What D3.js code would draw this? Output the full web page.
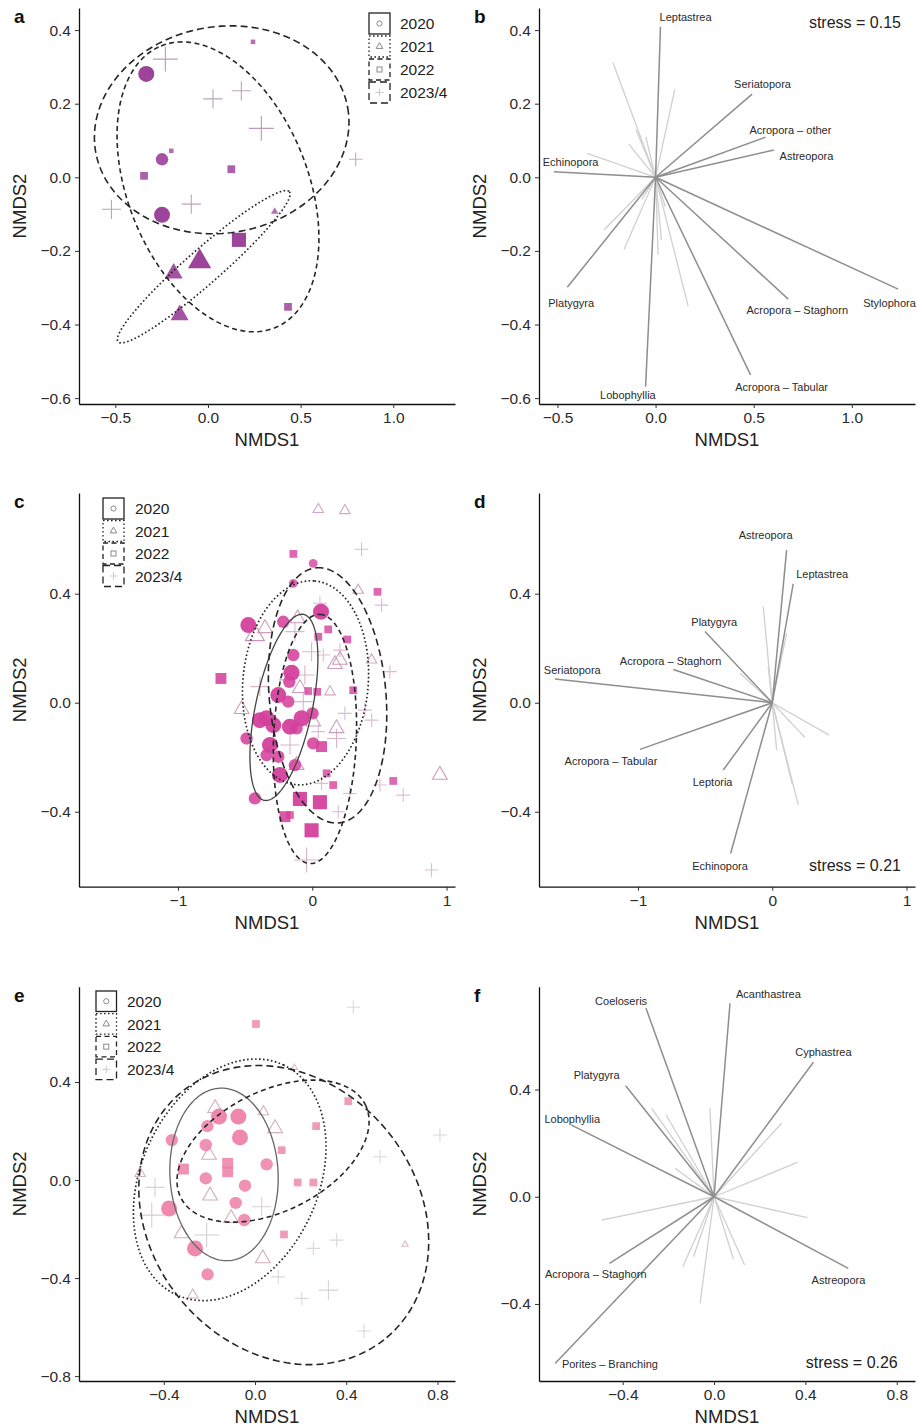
<!DOCTYPE html>
<html><head><meta charset="utf-8">
<script src="https://cdn.jsdelivr.net/npm/d3@7/dist/d3.min.js"></script>
<style>
body{margin:0;background:#fff}
svg{display:block}
text{font-family:"Liberation Sans",Arial,Helvetica,sans-serif}
</style>
</head><body>
<svg id="chart" width="918" height="1427"></svg>
<script>
// ---------------- DATA ----------------
const years = ["2020","2021","2022","2023/4"];
// scatter points: [NMDS1, NMDS2, cover class 1-4]
const a2020 = [[-0.333,0.281,4],[-0.248,0.049,3],[-0.248,-0.102,4]];
const a2021 = [[-0.045,-0.229,4],[-0.185,-0.261,3],[-0.153,-0.374,3],[0.36,-0.093,1]];
const a2022 = [[-0.198,0.072,1],[-0.345,0.004,2],[0.126,0.022,2],[0.167,-0.170,4],[0.432,-0.352,2],[0.243,0.368,1]];
const a2023 = [[-0.23,0.321,4],[0.027,0.213,3],[0.18,0.235,3],[0.288,0.133,4],[0.797,0.049,2],[-0.09,-0.073,3],[-0.521,-0.087,3]];
// ellipses: [cx, cy, axisA_x, axisA_y, axisB_x, axisB_y]
const aEll2021 = [-0.023,-0.243,0.462,0.204,0.062,-0.035];
const aEll2022 = [0.054,-0.026,-0.307,0.383,0.450,0.092];
const aEll2023 = [0.074,0.129,0.680,0.060,0.097,-0.276];

const c2020 = [[-0.476,0.285,4],[-0.216,0.297,3],[-0.141,0.438,2],[0.007,0.511,2],[0.065,0.334,4],[-0.141,0.175,3],[-0.154,0.110,4],[-0.171,0.077,3],[-0.253,0.028,4],[-0.179,0.004,3],[-0.340,-0.057,4],[-0.290,-0.082,4],[-0.390,-0.064,4],[-0.166,-0.088,4],[-0.079,-0.057,4],[-0.117,-0.094,3],[-0.489,-0.131,3],[-0.315,-0.155,4],[-0.340,-0.192,3],[-0.241,-0.265,4],[-0.427,-0.351,3],[-0.129,-0.229,3],[0.007,-0.149,3],[0.002,-0.039,3],[-0.253,-0.198,3]];
const c2021 = [[0.045,0.709,2],[0.243,0.705,2],[-0.427,0.248,4],[-0.352,0.273,3],[-0.109,0.309,3],[0.169,0.141,3],[0.206,0.157,3],[-0.092,0.053,3],[0.132,0.040,2],[-0.526,-0.024,3],[0.007,-0.070,3],[0.181,-0.094,3],[0.950,-0.265,3],[-0.117,-0.229,3],[-0.203,0.095,2],[0.342,0.413,2],[0.442,0.157,2]];
const c2022 = [[-0.680,0.089,3],[-0.141,0.546,2],[0.119,0.269,2],[0.045,0.242,2],[-0.030,0.043,2],[0.037,0.040,2],[0.305,0.046,2],[0.261,0.232,2],[0.486,0.407,2],[0.069,-0.161,3],[0.107,-0.259,2],[0.156,-0.302,2],[0.603,-0.287,2],[0.057,-0.365,4],[-0.092,-0.353,4],[-0.005,-0.468,4],[-0.203,-0.418,3],[-0.166,-0.412,2]];
const c2023 = [[0.367,0.563,2],[0.516,0.358,2],[0.057,0.365,2],[-0.129,0.261,3],[-0.005,0.187,3],[0.082,0.175,2],[0.206,0.193,2],[-0.055,0.102,3],[-0.067,0.004,3],[0.243,-0.039,2],[0.392,-0.027,2],[0.442,-0.064,2],[0.181,-0.131,3],[0.045,-0.106,2],[-0.390,0.059,3],[0.504,-0.302,2],[0.677,-0.339,2],[0.280,-0.333,2],[0.194,-0.400,2],[-0.042,-0.577,4],[0.888,-0.614,2],[0.578,0.114,2],[0.069,-0.296,2],[-0.166,-0.155,3]];
const cEll2020 = [-0.211,-0.017,0.147,0.341,0.206,-0.0217];
const cEll2021 = [-0.050,0.073,0.0665,0.374,0.465,-0.020];
const cEll2022 = [0.020,-0.133,0.037,0.457,0.308,-0.006];
const cEll2023 = [0.114,0.027,-0.083,0.468,0.433,0.0187];

const e2020 = [[-0.158,0.259,4],[-0.073,0.259,4],[-0.209,0.220,3],[-0.066,0.174,4],[-0.365,0.163,3],[-0.216,0.143,3],[0.051,0.064,3],[-0.216,0.007,3],[-0.044,-0.023,3],[-0.377,-0.116,4],[-0.085,-0.093,3],[-0.047,-0.163,3],[-0.263,-0.279,4],[-0.208,-0.385,3]];
const e2021 = [[-0.175,0.293,3],[0.037,0.279,2],[0.088,0.211,3],[-0.202,0.102,3],[-0.197,-0.064,3],[-0.504,0.027,2],[-0.105,-0.156,3],[-0.322,-0.218,3],[0.034,-0.320,3],[-0.273,-0.469,2],[0.658,-0.263,1],[0.173,0.459,1]];
const e2022 = [[-0.314,0.045,3],[-0.120,0.068,3],[-0.120,0.034,3],[0.004,0.637,2],[0.409,0.322,2],[0.268,0.220,2],[0.117,0.122,2],[0.187,-0.010,2],[0.256,-0.010,2],[0.127,-0.222,2]];
const e2023 = [[0.431,0.705,2],[-0.439,-0.030,3],[-0.453,-0.143,4],[-0.212,-0.224,4],[0.029,-0.109,3],[0.548,0.095,2],[0.811,0.184,2],[0.256,-0.279,2],[0.358,-0.245,2],[0.102,-0.395,2],[0.322,-0.449,3],[0.205,-0.483,2],[0.478,-0.616,2]];
const eEll2020 = [-0.136,0.023,-0.0175,0.352,0.237,0.0095];
const eEll2021 = [-0.111,0.001,0.235,0.469,0.351,-0.152];
const eEll2022 = [0.079,0.118,0.404,0.191,0.119,-0.218];
const eEll2023 = [0.126,-0.143,0.451,-0.500,0.448,0.350];

// species vectors
const bSpecies = ["Leptastrea","Seriatopora","Acropora – other","Astreopora","Echinopora","Platygyra","Lobophyllia","Acropora – Tabular","Acropora – Staghorn","Stylophora"];
const bEnd = [[0.025,0.409],[0.492,0.226],[0.56,0.109],[0.603,0.074],[-0.518,0.015],[-0.45,-0.299],[-0.051,-0.569],[0.484,-0.537],[0.676,-0.331],[1.236,-0.304]];
const bLabel = [[0.153,0.436],[0.545,0.254],[0.687,0.128],[0.769,0.058],[-0.433,0.041],[-0.430,-0.341],[-0.141,-0.592],[0.642,-0.569],[0.722,-0.362],[1.192,-0.341]];
const bOther = [[-0.217,0.311],[0.098,0.239],[-0.348,0.065],[-0.136,0.09],[-0.1,0.13],[-0.05,0.11],[-0.263,-0.143],[-0.161,-0.196],[0.013,-0.211],[0.03,-0.17],[0.166,-0.35],[-0.07,-0.06],[0.05,-0.08]];
const bStress = "stress = 0.15";

const dSpecies = ["Astreopora","Leptastrea","Platygyra","Acropora – Staghorn","Seriatopora","Acropora – Tabular","Leptoria","Echinopora"];
const dEnd = [[0.107,0.560],[0.156,0.436],[-0.501,0.261],[-0.737,0.122],[-1.618,0.087],[-0.985,-0.171],[-0.365,-0.247],[-0.31,-0.553]];
const dLabel = [[-0.049,0.615],[0.372,0.471],[-0.432,0.297],[-0.757,0.154],[-1.489,0.12],[-1.201,-0.214],[-0.444,-0.29],[-0.389,-0.599]];
const dOther = [[-0.067,0.352],[0.107,0.255],[0.424,-0.119],[0.243,-0.127],[0.194,-0.375],[0.033,-0.174],[-0.24,0.108],[-0.03,0.132],[0.15,-0.3]];
const dStress = "stress = 0.21";

const fSpecies = ["Coeloseris","Acanthastrea","Cyphastrea","Platygyra","Lobophyllia","Acropora – Staghorn","Porites – Branching","Astreopora"];
const fEnd = [[-0.298,0.703],[0.070,0.722],[0.435,0.502],[-0.387,0.414],[-0.626,0.268],[-0.458,-0.249],[-0.696,-0.622],[0.588,-0.267]];
const fLabel = [[-0.407,0.730],[0.238,0.755],[0.479,0.541],[-0.514,0.452],[-0.621,0.289],[-0.518,-0.29],[-0.456,-0.625],[0.545,-0.311]];
const fOther = [[-0.018,0.33],[-0.273,0.33],[-0.21,0.305],[0.296,0.274],[0.365,0.128],[0.409,-0.078],[-0.492,-0.087],[-0.171,0.106],[-0.137,-0.261],[-0.09,-0.224],[-0.061,-0.398],[0.085,-0.233],[0.134,-0.255]];
const fStress = "stress = 0.26";

// tick values
const abTicksX = [-0.5,0,0.5,1.0], abTicksY = [0.4,0.2,0,-0.2,-0.4,-0.6];
const cdTicksX = [-1,0,1], cdTicksY = [0.4,0,-0.4];
const efTicksX = [-0.4,0,0.4,0.8], eTicksY = [0.4,0,-0.4,-0.8], fTicksY = [0.4,0,-0.4];

// ---------------- DRAWING ----------------
const svg = d3.select("#chart");
const INK = "#222";
const rScale = d3.scaleLinear().domain([1,4]).range([2.6,8]);
const oScale = d3.scaleLinear().domain([1,4]).range([0.72,0.95]);
const dash = {"2020":null,"2021":"1.6,2.4","2022":"5,3.5","2023/4":"7,4"};

function makeScales(box, xd, yd){
  return {
    x: d3.scaleLinear().domain(xd).range([box.l, box.r]),
    y: d3.scaleLinear().domain(yd).range([box.b, box.t])
  };
}

function drawAxes(box, s, xt, yt, xf, yf, letter){
  const gx = svg.append("g").attr("transform",`translate(0,${box.b})`)
    .call(d3.axisBottom(s.x).tickValues(xt).tickFormat(xf).tickSize(4).tickSizeOuter(0).tickPadding(4));
  const gy = svg.append("g").attr("transform",`translate(${box.l},0)`)
    .call(d3.axisLeft(s.y).tickValues(yt).tickFormat(yf).tickSize(4).tickSizeOuter(0).tickPadding(4));
  [gx,gy].forEach(g=>{
    g.select(".domain").attr("stroke","#111").attr("stroke-width",1.3);
    g.selectAll(".tick line").attr("stroke","#333").attr("stroke-width",1);
    g.selectAll(".tick text").attr("fill","#2b2b2b").style("font-size","15.5px");
  });
  svg.append("text").attr("x",(box.l+box.r)/2).attr("y",box.b+42)
    .attr("text-anchor","middle").style("font-size","18.5px").attr("fill",INK).text("NMDS1");
  svg.append("text").attr("transform",`translate(${box.l-53},${(box.t+box.b)/2}) rotate(-90)`)
    .attr("text-anchor","middle").style("font-size","18.5px").attr("fill",INK).text("NMDS2");
  svg.append("text").attr("x",box.l-65).attr("y",box.t+15)
    .style("font-size","19px").style("font-weight","bold").attr("fill","#111").text(letter);
}

function trianglePath(px,py,r){
  const sd = 2.9*r, h = sd*Math.sqrt(3)/2;
  return `M${px},${py-2*h/3}L${px-sd/2},${py+h/3}L${px+sd/2},${py+h/3}Z`;
}
function plusPath(px,py,r){
  const L = 1.55*r;
  return `M${px-L},${py}H${px+L}M${px},${py-L}V${py+L}`;
}

function drawPoints(s, pts, shape, st){
  const g = svg.append("g");
  pts.forEach(p=>{
    const px = s.x(p[0]), py = s.y(p[1]), r = rScale(p[2]), o = oScale(p[2]);
    if(shape==="circle"){
      g.append("circle").attr("cx",px).attr("cy",py).attr("r",r).attr("fill",st.fill).attr("fill-opacity",o);
    } else if(shape==="square"){
      const hs = 0.88*r;
      g.append("rect").attr("x",px-hs).attr("y",py-hs).attr("width",2*hs).attr("height",2*hs).attr("fill",st.fill).attr("fill-opacity",o);
    } else if(shape==="triangle"){
      if(st.triFill) g.append("path").attr("d",trianglePath(px,py,r)).attr("fill",st.fill).attr("fill-opacity",o);
      else g.append("path").attr("d",trianglePath(px,py,r*0.82)).attr("fill","none").attr("stroke",st.triStroke).attr("stroke-width",1.1).attr("stroke-opacity",o);
    } else {
      g.append("path").attr("d",plusPath(px,py,r)).attr("fill","none").attr("stroke",st.plus).attr("stroke-width",1.1).attr("stroke-opacity",o);
    }
  });
}

function drawEllipse(s, e, year, color){
  const ts = d3.range(0, 2*Math.PI, Math.PI/90);
  const line = d3.line().x(t=>s.x(e[0]+e[2]*Math.cos(t)+e[4]*Math.sin(t)))
                        .y(t=>s.y(e[1]+e[3]*Math.cos(t)+e[5]*Math.sin(t)))
                        .curve(d3.curveLinearClosed);
  svg.append("path").attr("d",line(ts)).attr("fill","none")
    .attr("stroke", year==="2020" ? (color||"#555") : "#262626")
    .attr("stroke-width", year==="2020" ? 1.3 : (year==="2021" ? 1.7 : 1.6))
    .attr("stroke-dasharray", dash[year]);
}

function drawLegend(x0, yTop, step, size, textX){
  const g = svg.append("g");
  years.forEach((yr,i)=>{
    const y0 = yTop + i*step, cx = x0+size/2, cy = y0+size/2;
    g.append("rect").attr("x",x0).attr("y",y0).attr("width",size).attr("height",size)
      .attr("fill","#fff").attr("stroke","#222").attr("stroke-width",1.3).attr("stroke-dasharray",dash[yr]);
    const gl = "#8a8a8a";
    if(i===0) g.append("circle").attr("cx",cx).attr("cy",cy).attr("r",2.6).attr("fill","none").attr("stroke",gl);
    if(i===1) g.append("path").attr("d",trianglePath(cx,cy,2.3)).attr("fill","none").attr("stroke",gl);
    if(i===2) g.append("rect").attr("x",cx-2.5).attr("y",cy-2.5).attr("width",5).attr("height",5).attr("fill","none").attr("stroke",gl);
    if(i===3) g.append("path").attr("d",plusPath(cx,cy,2.6)).attr("stroke","#ccc").attr("fill","none");
    g.append("text").attr("x",textX).attr("y",cy).attr("dy","0.36em").style("font-size","15.5px").attr("fill",INK).text(yr);
  });
}

function scatterPanel(box, xd, yd, xt, yt, xf, yf, letter, sets, ells, st, leg){
  const s = makeScales(box, xd, yd);
  drawAxes(box, s, xt, yt, xf, yf, letter);
  drawPoints(s, sets[3], "plus", st);
  drawPoints(s, sets[1], "triangle", st);
  drawPoints(s, sets[2], "square", st);
  drawPoints(s, sets[0], "circle", st);
  ells.forEach(([e,yr])=>drawEllipse(s,e,yr,st.solid));
  drawLegend(leg[0],leg[1],leg[2],leg[3],leg[4]);
}

function vectorPanel(box, xd, yd, xt, yt, xf, yf, letter, names, ends, labs, others, stress, stressPos){
  const s = makeScales(box, xd, yd);
  drawAxes(box, s, xt, yt, xf, yf, letter);
  const g = svg.append("g");
  others.forEach(p=>g.append("line").attr("x1",s.x(0)).attr("y1",s.y(0)).attr("x2",s.x(p[0])).attr("y2",s.y(p[1]))
     .attr("stroke","#d0d0d0").attr("stroke-width",1.3));
  ends.forEach(p=>g.append("line").attr("x1",s.x(0)).attr("y1",s.y(0)).attr("x2",s.x(p[0])).attr("y2",s.y(p[1]))
     .attr("stroke","#8e8e8e").attr("stroke-width",1.5));
  names.forEach((n,i)=>g.append("text").attr("x",s.x(labs[i][0])).attr("y",s.y(labs[i][1])).attr("dy","0.35em")
     .attr("text-anchor","middle").style("font-size","11px").attr("fill","#2a2a2a").text(n));
  g.append("text").attr("x",s.x(stressPos[0])).attr("y",s.y(stressPos[1])).attr("dy","0.35em")
     .attr("text-anchor","middle").style("font-size","16px").attr("fill",INK).text(stress);
}

const f1 = d3.format(".1f"), f0 = d3.format("d");

// panel a
scatterPanel({l:79,r:455,t:8,b:404}, [-0.696,1.333], [-0.616,0.46], abTicksX, abTicksY, f1, f1, "a",
  [a2020,a2021,a2022,a2023], [[aEll2021,"2021"],[aEll2022,"2022"],[aEll2023,"2023/4"]],
  {fill:"#963a94", triFill:true, plus:"#b497b4"}, [369,13,23,21,400]);
// panel b
vectorPanel({l:539,r:915,t:8,b:404}, [-0.594,1.322], [-0.616,0.46], abTicksX, abTicksY, f1, f1, "b",
  bSpecies, bEnd, bLabel, bOther, bStress, [1.016,0.42]);
// panel c
scatterPanel({l:79,r:455,t:493,b:886.7}, [-1.737,1.063], [-0.675,0.7695], cdTicksX, cdTicksY, f0, f1, "c",
  [c2020,c2021,c2022,c2023], [[cEll2020,"2020"],[cEll2021,"2021"],[cEll2022,"2022"],[cEll2023,"2023/4"]],
  {fill:"#d4409c", triFill:false, triStroke:"#c690b4", plus:"#d7aac6", solid:"#444"}, [103,498,22.5,21,135]);
// panel d
vectorPanel({l:539,r:915,t:493,b:886.7}, [-1.737,1.063], [-0.675,0.7695], cdTicksX, cdTicksY, f0, f1, "d",
  dSpecies, dEnd, dLabel, dOther, dStress, [0.616,-0.596]);
// panel e
scatterPanel({l:79,r:455,t:986.7,b:1381}, [-0.772,0.877], [-0.820,0.789], efTicksX, eTicksY, f1, f1, "e",
  [e2020,e2021,e2022,e2023], [[eEll2020,"2020"],[eEll2021,"2021"],[eEll2022,"2022"],[eEll2023,"2023/4"]],
  {fill:"#ee82aa", triFill:false, triStroke:"#c9a3b4", plus:"#d4cbcf", solid:"#666"}, [96,991,22.7,20.5,127]);
// panel f
vectorPanel({l:539,r:915,t:986.7,b:1381}, [-0.7665,0.880], [-0.6874,0.7836], efTicksX, fTicksY, f1, f1, "f",
  fSpecies, fEnd, fLabel, fOther, fStress, [0.603,-0.618]);
</script>
</body></html>
